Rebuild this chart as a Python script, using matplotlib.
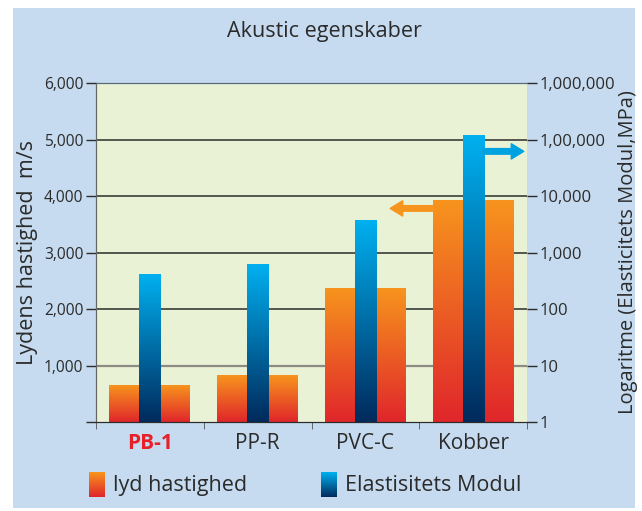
import numpy as np
import matplotlib.pyplot as plt
from matplotlib.patches import Rectangle
from matplotlib.colors import LinearSegmentedColormap

plt.rcParams['font.family'] = ['Open Sans', 'DejaVu Sans']

# data
materials = ['PB-1', 'PP-R', 'PVC-C', 'Kobber']
lyd_hastighed = [640, 830, 2370, 3920]        # m/s, left axis
elast_modul = [410, 620, 3700, 117000]        # MPa, right (log) axis
left_ticks = [0, 1000, 2000, 3000, 4000, 5000, 6000]
left_labels = ['', '1,000', '2,000', '3,000', '4,000', '5,000', '6,000']
right_ticks = [1, 10, 100, 1000, 10000, 100000, 1000000]
right_labels = ['1', '10', '100', '1,000', '10,000', '1,00,000', '1,000,000']

BG = '#c6dbef'
PLOT_BG = '#eaf2d6'
ORANGE_TOP, ORANGE_BOT = '#f7941d', '#e0262b'
BLUE_TOP, BLUE_BOT = '#00b0f0', '#002a5c'
DARK = '#2b2b2b'


def gradient(ax, bar, top, bottom, zorder):
    '''paint a bar (drawn on any twin axes) with a vertical gradient on ax'''
    x0, y0, x1, y1 = bar.get_bbox().extents
    bax = bar.axes
    to_axes = bax.transData + bax.transAxes.inverted()
    (_, fy0), (_, fy1) = to_axes.transform([(x0, y0), (x1, y1)])
    cmap = LinearSegmentedColormap.from_list('g', [bottom, top])
    grad = np.linspace(0, 1, 256).reshape(-1, 1)
    ax.imshow(grad, cmap=cmap, origin='lower', aspect='auto',
              extent=(x0, x1, fy0, fy1), transform=ax.get_xaxis_transform(),
              zorder=zorder, interpolation='bilinear')
    bar.set_visible(False)


fig = plt.figure(figsize=(6.42, 5.11), dpi=100)
fig.patches.append(Rectangle((13 / 642, 3 / 511), 622 / 642, 500 / 511,
                             transform=fig.transFigure, facecolor=BG,
                             edgecolor='none', zorder=-5))

ax = fig.add_axes([96 / 642, 89 / 511, 431 / 642, 339 / 511])
ax2 = ax.twinx()
ax.set_facecolor(PLOT_BG)

x = np.arange(len(materials))
ax.set_xlim(-0.5, len(materials) - 0.5)
ax.set_ylim(0, 6000)
ax2.set_yscale('log')
ax2.set_ylim(1, 1000000)

orange = ax.bar(x, lyd_hastighed, width=0.75)
blue = ax2.bar(x, elast_modul, width=0.195, bottom=1)
for b in orange:
    gradient(ax, b, ORANGE_TOP, ORANGE_BOT, 2)
for b in blue:
    gradient(ax, b, BLUE_TOP, BLUE_BOT, 3)
ax.set_xlim(-0.5, len(materials) - 0.5)
ax.set_ylim(0, 6000)
ax2.set_ylim(1, 1000000)

# gridlines (the lowest one is lighter in the original)
for t in left_ticks[1:-1]:
    if t == 1000:
        ax.axhline(t, color='#8c8c84', lw=1.6, zorder=1)
    else:
        ax.axhline(t, color=DARK, lw=1.1, zorder=1)

# arrows pointing to the relevant axis
arrow_style = 'simple,head_length=0.9,head_width=1.1,tail_width=0.4'
ax.annotate('', xy=(2.23, 3780), xytext=(2.63, 3780),
            arrowprops=dict(arrowstyle=arrow_style, color=ORANGE_TOP,
                            mutation_scale=10, shrinkA=0, shrinkB=0),
            zorder=4)
ax.annotate('', xy=(3.47, 4790), xytext=(3.09, 4790),
            arrowprops=dict(arrowstyle=arrow_style, color='#00a3e0',
                            mutation_scale=10, shrinkA=0, shrinkB=0),
            zorder=4)

# axes styling
ax.set_yticks(left_ticks, left_labels, fontsize=11.2, color=DARK)
ax.tick_params(axis='y', direction='out', length=7, width=1, color=DARK, pad=2)
ax2.set_yticks(right_ticks, right_labels, fontsize=12, color=DARK)
ax2.yaxis.set_minor_locator(plt.NullLocator())
ax2.tick_params(axis='y', direction='out', length=7, width=1, color=DARK, pad=2)

ax.set_xticks(x, materials, fontsize=15, color=DARK)
ax.set_xticks(np.arange(-0.5, len(materials)), minor=True)
ax.tick_params(axis='x', which='major', length=0, pad=8)
ax.tick_params(axis='x', which='minor', direction='out', length=5, color='#555555')
lbl = ax.get_xticklabels()[0]
lbl.set_color('#e8202a')
lbl.set_fontweight('bold')

for a in (ax, ax2):
    a.spines['right'].set_visible(False)
    a.spines['top'].set_color('#56687a')
    a.spines['bottom'].set_color(DARK)
    a.spines['left'].set_color('#666666')

ax.set_ylabel('Lydens hastighed  m/s', fontsize=15.5, color=DARK, labelpad=4)
ax2.set_ylabel('Logaritme (Elasticitets Modul,MPa)', fontsize=14.5, color=DARK,
               labelpad=2)

fig.text(0.505, 1 - 31 / 511, 'Akustic egenskaber', ha='center', va='center',
         fontsize=15.5, color=DARK)

# legend with gradient swatches
legend_items = [('lyd hastighed', ORANGE_TOP, ORANGE_BOT, 89),
                ('Elastisitets Modul', BLUE_TOP, BLUE_BOT, 321)]
for text, top, bot, px in legend_items:
    sw = fig.add_axes([px / 642, 1 - 497 / 511, 16 / 642, 25 / 511])
    cmap = LinearSegmentedColormap.from_list('s', [bot, top])
    sw.imshow(np.linspace(0, 1, 64).reshape(-1, 1), cmap=cmap, origin='lower',
              aspect='auto')
    sw.axis('off')
    fig.text((px + 24) / 642, 1 - 485 / 511, text, ha='left', va='center',
             fontsize=15.5, color=DARK)

fig.savefig('out.png', dpi=100)
